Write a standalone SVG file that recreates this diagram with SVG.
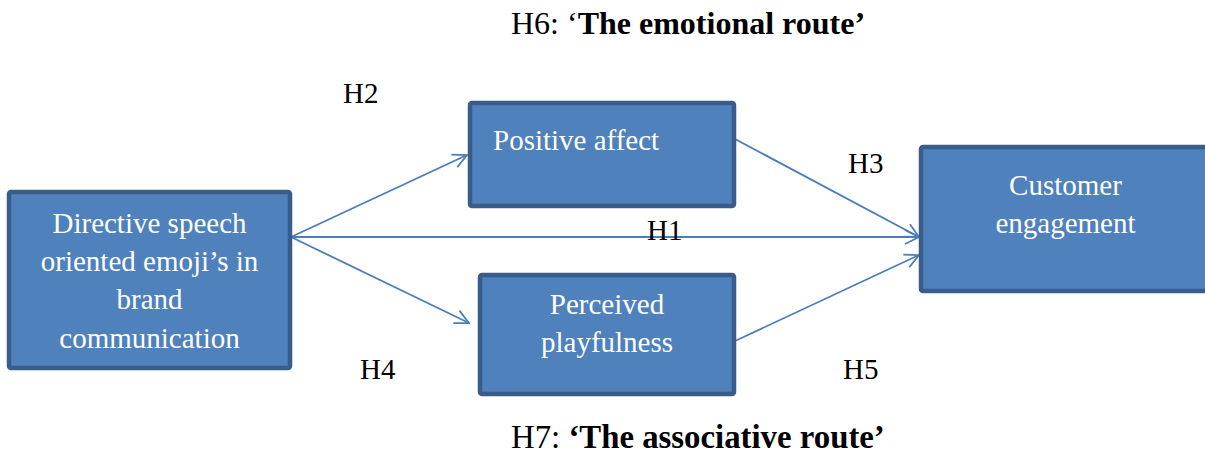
<svg xmlns="http://www.w3.org/2000/svg" width="1205" height="453" viewBox="0 0 1205 453">
<defs>
<style>
.box{fill:#4F81BD;stroke:#385D8A;stroke-width:4.5}
.bt{font-family:"Liberation Serif","Times New Roman",serif;font-size:29px;fill:#FFFFFF}
.lbl{font-family:"Liberation Serif","Times New Roman",serif;font-size:29px;fill:#000000}
.ttl{font-family:"Liberation Serif","Times New Roman",serif;font-size:32px;fill:#000000}
.b{font-weight:bold}
.con{fill:none;stroke:#4A7EBB;stroke-width:1.8;marker-end:url(#arr)}
</style>
<marker id="arr" markerUnits="userSpaceOnUse" viewBox="0 0 16 16" refX="15" refY="8" markerWidth="16" markerHeight="16" orient="auto">
<path d="M1,1 L15,8 L1,15" fill="none" stroke="#4A7EBB" stroke-width="1.8"/>
</marker>
</defs>
<rect width="1205" height="453" fill="#FFFFFF"/>
<g id="connectors">
<line class="con" x1="291" y1="237" x2="467" y2="155"/>
<line class="con" x1="291" y1="237" x2="919" y2="237"/>
<line class="con" x1="291" y1="237" x2="469" y2="323"/>
<line class="con" x1="735" y1="139" x2="919" y2="237"/>
<line class="con" x1="735" y1="341" x2="919" y2="255"/>
</g>
<g id="node-directive">
<rect class="box" x="9" y="192" width="281" height="176" rx="2"/>
<text class="bt" text-anchor="middle"><tspan x="149.5" y="233">Directive speech</tspan><tspan x="149.5" y="271">oriented emoji’s in</tspan><tspan x="149.5" y="309">brand</tspan><tspan x="149.5" y="348">communication</tspan></text>
</g>
<g id="node-positive">
<rect class="box" x="470" y="103" width="264" height="103" rx="2"/>
<text class="bt" x="493" y="150">Positive affect</text>
</g>
<g id="node-playfulness">
<rect class="box" x="480" y="275" width="254" height="119" rx="2"/>
<text class="bt" text-anchor="middle"><tspan x="607" y="314">Perceived</tspan><tspan x="607" y="352">playfulness</tspan></text>
</g>
<g id="node-engagement">
<rect class="box" x="921" y="147" width="291" height="144" rx="2"/>
<text class="bt" text-anchor="middle"><tspan x="1065.5" y="195">Customer</tspan><tspan x="1065.5" y="233">engagement</tspan></text>
</g>
<g id="labels">
<text class="lbl" x="343" y="103">H2</text>
<text class="lbl" x="848" y="173">H3</text>
<text class="lbl" x="647" y="240">H1</text>
<text class="lbl" x="360" y="379">H4</text>
<text class="lbl" x="843" y="379">H5</text>
<text class="ttl" x="511" y="34">H6: ‘<tspan class="b">The emotional route’</tspan></text>
<text class="ttl" x="511" y="448" style="font-size:32.8px">H7: <tspan class="b">‘The associative route’</tspan></text>
</g>
</svg>
